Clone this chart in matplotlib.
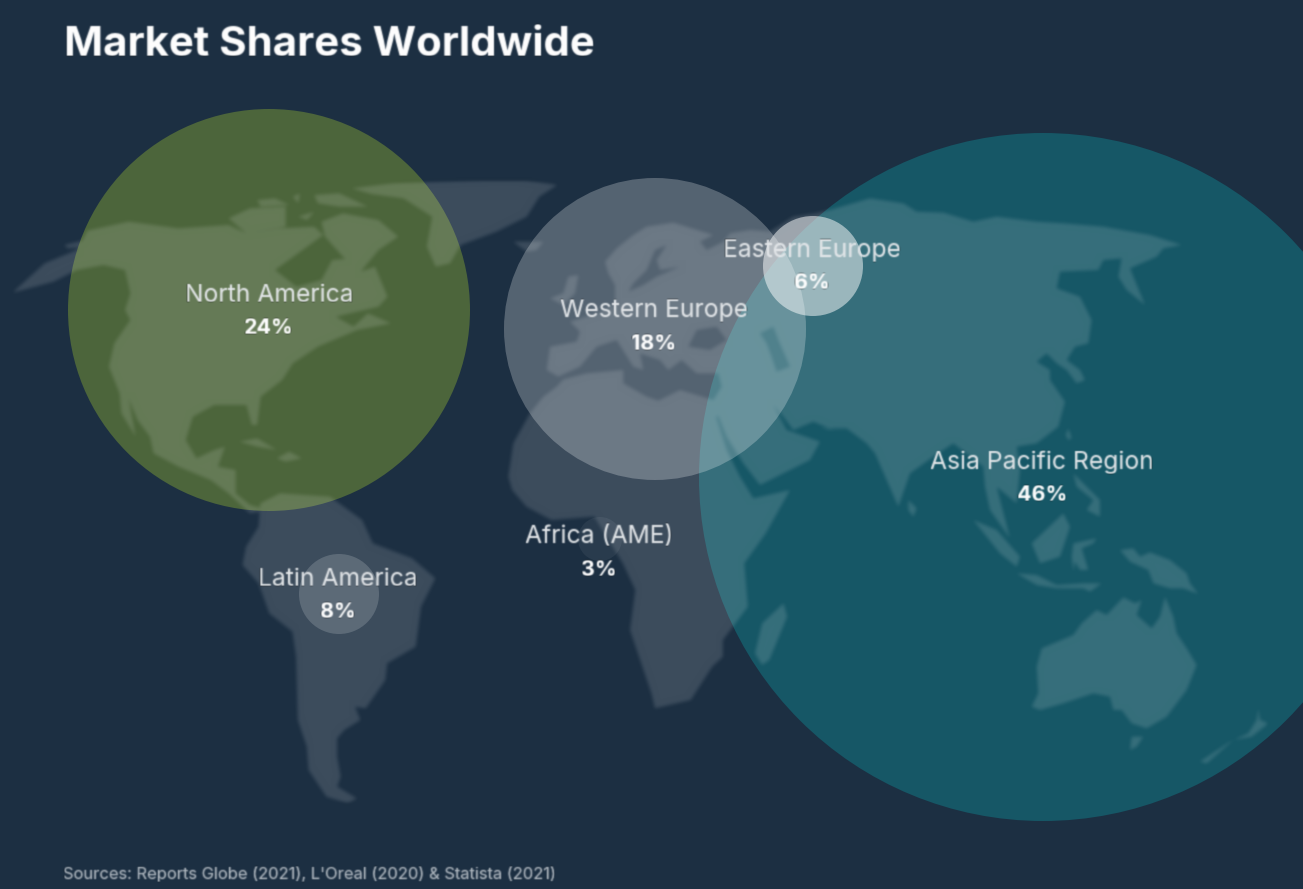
import matplotlib
matplotlib.use("Agg")
import matplotlib.pyplot as plt
from matplotlib.patches import Circle, PathPatch
from matplotlib.path import Path
import numpy as np

plt.rcParams['font.family'] = ['Inter', 'DejaVu Sans']

# Chart data
regions = ["North America", "Western Europe", "Eastern Europe",
           "Asia Pacific Region", "Africa (AME)", "Latin America"]
shares = [24, 18, 6, 46, 3, 8]
title = "Market Shares Worldwide"
source = "Sources: Reports Globe (2021), L'Oreal (2020) & Statista (2021)"

# Bubbles, in picture pixels
bubble_x = [269, 655, 813, 1043, 600, 339]
bubble_y = [310, 329, 266, 477, 539, 594]
bubble_r = [201, 151, 50, 344, 22, 40]
label_x = [269, 654, 812, 1042, 599, 338]
label_y = [295, 311, 250, 462, 537, 579]

BG = "#1c2f42"


# map outlines were traced on crops of the picture, each with its own scale
def crop(pts, x0, y0, sx=3.0, sy=3.0):
    return [(x0 + px / sx, y0 + py / sy) for px, py in pts]


def z1(pts):
    return crop(pts, 0, 100, 2.8, 3)


def z2(pts):
    return crop(pts, 500, 170)


def z3(pts):
    return crop(pts, 820, 180)


def z4(pts):
    return crop(pts, 230, 490, 2.8, 3)


def z5(pts):
    return crop(pts, 950, 520)


north_america = z1([(35, 578), (125, 490), (215, 450), (245, 392), (360, 365), (500, 385), (640, 375),
                    (690, 400), (780, 385), (880, 380), (905, 405), (770, 510), (830, 560), (900, 540),
                    (930, 480), (985, 475), (1010, 515), (1050, 500), (1085, 590), (1060, 620), (940, 650),
                    (990, 680), (1030, 640), (1095, 670), (1000, 690), (945, 715), (890, 740), (820, 790),
                    (790, 840), (730, 890), (720, 975), (705, 975), (690, 915), (600, 915), (540, 950),
                    (520, 1020), (550, 1075), (600, 1050), (630, 1040), (610, 1100), (660, 1110), (660, 1180),
                    (700, 1215), (750, 1230), (700, 1240), (640, 1180), (590, 1140), (500, 1100), (430, 1060),
                    (420, 1010), (385, 960), (360, 895), (380, 1010), (340, 940), (335, 880), (305, 800),
                    (320, 730), (365, 660), (350, 630), (365, 580), (350, 510), (290, 495), (215, 510),
                    (150, 545)])
alaska_isle = z1([(180, 435), (240, 420), (240, 440), (190, 445)])
arctic_1 = z1([(640, 355), (700, 325), (800, 320), (800, 380), (690, 400)])
arctic_2 = z1([(720, 300), (770, 295), (810, 315), (730, 320)])
arctic_3 = z1([(820, 290), (840, 280), (835, 310)])
arctic_4 = z1([(880, 285), (950, 280), (1030, 320), (950, 320), (890, 310)])
arctic_5 = z1([(835, 350), (880, 335), (860, 360)])
baffin = z1([(900, 365), (960, 340), (1060, 360), (1115, 410), (1060, 450), (1010, 515), (960, 470), (910, 410)])
greenland = z1([(985, 265), (1100, 250), (1220, 245), (1350, 240), (1470, 240), (1560, 255), (1510, 290),
                (1475, 350), (1390, 395), (1290, 435), (1260, 490), (1220, 500), (1195, 440), (1210, 350),
                (1130, 295), (1040, 282)])
cuba = z1([(670, 1025), (720, 1015), (775, 1050), (720, 1040)])
hispaniola = z1([(775, 1075), (810, 1055), (845, 1075), (800, 1085)])

south_america = z4([(85, 40), (140, 10), (280, 20), (370, 90), (400, 160), (510, 205), (575, 265), (535, 350),
                    (520, 470), (440, 520), (435, 570), (380, 655), (350, 650), (365, 690), (320, 720),
                    (300, 745), (300, 800), (310, 860), (300, 890), (355, 925), (330, 940), (270, 920),
                    (220, 840), (215, 770), (190, 690), (185, 500), (175, 425), (110, 370), (80, 280),
                    (35, 225), (45, 170), (80, 110)])

# Eurasia and Africa as one ring, the Mediterranean closes it at Gibraltar
europe_north = z2([(175, 620), (140, 600), (150, 530), (230, 515), (240, 485), (210, 455), (290, 430), (345, 400),
                   (345, 345), (325, 310), (315, 275), (350, 235), (400, 195), (440, 170), (520, 158),
                   (575, 175), (640, 195), (600, 215), (620, 240), (670, 215), (690, 190), (750, 180),
                   (810, 185), (880, 140), (950, 130)])
asia_coast = z3([(30, 90), (150, 55), (250, 70), (290, 95), (370, 98), (460, 125), (530, 110), (650, 125),
                 (730, 130), (850, 140), (990, 165), (1085, 195), (1030, 205), (1010, 230), (930, 265),
                 (975, 375), (920, 330), (895, 290), (905, 235), (850, 240), (835, 270), (720, 275),
                 (710, 325), (780, 350), (815, 420), (805, 490), (765, 500), (740, 540), (780, 570),
                 (795, 600), (770, 610), (740, 570), (710, 550), (680, 520), (650, 545), (690, 570),
                 (690, 600), (735, 665), (715, 740), (650, 790), (590, 800), (600, 870), (590, 970),
                 (530, 920), (570, 1075), (510, 990), (495, 920), (490, 860), (400, 790), (340, 830),
                 (270, 880), (235, 980), (165, 820), (140, 790), (80, 745), (0, 745)])
arabia = z2([(1060, 790), (1000, 780), (940, 755), (880, 780), (850, 740), (820, 705), (860, 780), (960, 815),
             (930, 870), (780, 945), (730, 880), (680, 800), (655, 738), (648, 740), (680, 840), (720, 920),
             (760, 985), (870, 960)])
africa_south = z4([(1500, 130), (1440, 220), (1450, 350), (1380, 450), (1380, 500), (1350, 530), (1290, 630),
                   (1190, 655), (1180, 610), (1120, 420), (1135, 300), (1100, 220), (1020, 80), (900, 90),
                   (830, 50), (790, 0)])
med_coast = z2([(25, 920), (40, 820), (90, 730), (130, 680), (170, 650), (190, 628), (260, 610), (370, 600),
                (370, 640), (440, 680), (475, 692), (540, 660), (640, 690), (665, 650), (655, 610), (590, 610),
                (545, 570), (505, 600), (480, 570), (420, 550), (430, 600), (400, 590), (350, 510), (290, 530),
                (240, 590)])
eurasia_africa = europe_north + asia_coast + arabia + africa_south + med_coast

uk = z2([(150, 385), (190, 370), (205, 320), (235, 315), (225, 370), (190, 405)])
iceland = z2([(40, 215), (130, 215), (110, 240), (80, 245)])
madagascar = z4([(1550, 340), (1560, 380), (1510, 510), (1490, 525), (1470, 490), (1490, 400)])
sri_lanka = z3([(265, 960), (290, 985), (280, 1010), (265, 990)])
taiwan = z3([(745, 745), (755, 775), (745, 780), (737, 765)])
sumatra = z3([(460, 1020), (530, 1050), (600, 1130), (590, 1160), (540, 1120)])
borneo = z3([(730, 1000), (750, 1040), (720, 1130), (660, 1150), (635, 1090)])
philippines = z3([(760, 880), (790, 910), (840, 960), (840, 1010), (800, 990), (820, 960), (770, 920)])
sulawesi = z5([(370, 70), (440, 55), (430, 70), (395, 85), (415, 150), (390, 150), (375, 125), (370, 155), (365, 110)])
java = z5([(200, 160), (260, 165), (320, 195), (400, 190), (455, 190), (420, 215), (400, 205), (320, 205), (260, 195)])
new_guinea = z5([(510, 90), (550, 85), (570, 110), (600, 97), (660, 120), (710, 160), (720, 190), (745, 222),
                 (700, 205), (660, 205), (610, 190), (595, 150), (540, 125)])
australia = z5([(245, 560), (265, 520), (260, 440), (275, 385), (370, 345), (395, 310), (440, 270), (470, 285),
                 (520, 232), (555, 250), (575, 240), (560, 285), (605, 325), (630, 290), (645, 230), (670, 290),
                 (680, 340), (710, 385), (740, 435), (710, 510), (650, 590), (590, 625), (545, 610), (515, 570),
                 (490, 570), (480, 530), (430, 520), (340, 550), (270, 570)])
tasmania = z5([(545, 650), (580, 650), (560, 680), (540, 690)])
new_zealand = z5([(925, 565), (930, 600), (955, 610), (905, 650), (850, 660), (770, 730), (750, 725), (840, 665),
                  (895, 640), (920, 600)])

land_rings = [north_america, alaska_isle, arctic_1, arctic_2, arctic_3, arctic_4, arctic_5, baffin, greenland,
              cuba, hispaniola, south_america, eurasia_africa, uk, iceland, madagascar, sri_lanka, taiwan,
              sumatra, borneo, philippines, sulawesi, java, new_guinea, australia, tasmania, new_zealand]

# Inland seas are cut out of the land
baltic = z2([(385, 365), (430, 345), (470, 320), (540, 290), (480, 300), (470, 270), (500, 225), (465, 240),
             (440, 300), (400, 340)])
black_sea = z2([(565, 530), (590, 480), (650, 470), (680, 510), (630, 540)])
caspian = z2([(780, 490), (820, 470), (835, 510), (870, 590), (830, 605), (815, 560), (800, 520)])
sea_rings = [baltic, black_sea, caspian]


def oriented(ring, positive=True):
    # nonzero winding: same direction rings merge, opposite direction ones cut
    pts = np.array(ring, dtype=float)
    x, y = pts[:, 0], pts[:, 1]
    area = np.sum(x * np.roll(y, -1) - np.roll(x, -1) * y)
    if (area > 0) != positive:
        pts = pts[::-1]
    return pts


def rings_to_path(lands, seas):
    verts, codes = [], []
    for ring, sign in [(r, True) for r in lands] + [(r, False) for r in seas]:
        pts = oriented(ring, sign)
        verts.extend(pts.tolist())
        verts.append(pts[0].tolist())
        codes.extend([Path.MOVETO] + [Path.LINETO] * (len(pts) - 1) + [Path.CLOSEPOLY])
    return Path(verts, codes)


def soften(sigma):
    # the reference is a blurry screenshot, so soften edges a little
    size = int(3 * sigma) + 1
    kernel = np.exp(-0.5 * (np.arange(-size, size + 1) / sigma) ** 2)
    kernel /= kernel.sum()

    def agg_filter(img, dpi):
        out = np.pad(img, ((size, size), (size, size), (0, 0)))
        for axis in (0, 1):
            out = np.apply_along_axis(lambda col: np.convolve(col, kernel, mode='same'), axis, out)
        return out, -size, -size
    return agg_filter


fig = plt.figure(figsize=(13.03, 8.89), dpi=100, facecolor=BG)
ax = fig.add_axes([0, 0, 1, 1])
ax.set_xlim(0, 1303)
ax.set_ylim(889, 0)
ax.axis('off')

# Solid bubbles first, then the white ones, the land sits over them all
bubble_face = ["#4c653b", "white", "white", "#165766", "white", "white"]
bubble_alpha = [1.0, 0.25, 0.5, 1.0, 0.06, 0.17]
for i in [0, 3, 1, 2, 4, 5]:
    ax.add_patch(Circle((bubble_x[i], bubble_y[i]), bubble_r[i], fc=bubble_face[i],
                        alpha=bubble_alpha[i], lw=0))

land = PathPatch(rings_to_path(land_rings, sea_rings), fc="white", alpha=0.14, lw=0)
land.set_agg_filter(soften(1.8))
ax.add_patch(land)

texts = [ax.text(64, 45, title, color="white", fontsize=30.2, fontweight='bold', va='center', ha='left')]
for i in range(len(regions)):
    texts.append(ax.text(label_x[i], label_y[i], regions[i], color="#e4e7ea", fontsize=17.8,
                         va='center', ha='center'))
    texts.append(ax.text(label_x[i], label_y[i] + 33, f"{shares[i]}%", color="white", fontsize=15.5,
                         fontweight='bold', va='center', ha='center'))
texts.append(ax.text(63, 874, source, color="#b4bcc4", fontsize=11.9, va='center', ha='left'))
for t in texts:
    t.set_agg_filter(soften(0.7))

fig.savefig("out.png", dpi=100, facecolor=BG)
